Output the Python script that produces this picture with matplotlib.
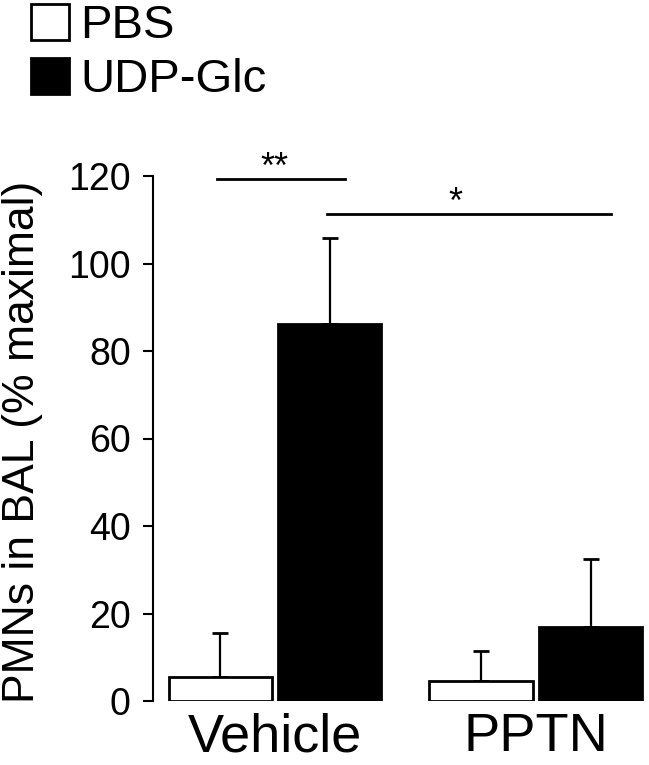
import numpy as np
import matplotlib
matplotlib.use("Agg")
from matplotlib import pyplot as plt

plt.rcParams['font.family'] = ['Liberation Sans', 'DejaVu Sans']

groups = ['Vehicle', 'PPTN']
series = ['PBS', 'UDP-Glc']
means = {'PBS': [5.5, 4.6], 'UDP-Glc': [86.1, 16.9]}
errs = {'PBS': [10.0, 6.8], 'UDP-Glc': [19.7, 15.6]}
colors = {'PBS': 'white', 'UDP-Glc': 'black'}
yticks = [0, 20, 40, 60, 80, 100, 120]

W, H = 649, 765
fig = plt.figure(figsize=(W / 100, H / 100), dpi=100)
ax = fig.add_axes([153 / W, 64 / H, (648 - 153) / W, (701 - 176) / H])

x = np.arange(len(groups))
width = 0.395
offsets = [-0.21, 0.21]
for s, off in zip(series, offsets):
    ax.bar(x + off, means[s], width, color=colors[s], edgecolor='black',
           linewidth=2.0, zorder=2, label=s)
    ax.errorbar(x + off, means[s], yerr=[np.zeros(len(groups)), errs[s]],
                fmt='none', ecolor='black', elinewidth=1.6, capsize=5.5,
                capthick=2.0, zorder=1)

# significance brackets
ax.plot([-0.22, 0.27], [119.3, 119.3], color='black', lw=2, clip_on=False)
ax.text(0.0, 119.6, '**', ha='center', va='baseline', fontsize=26, clip_on=False)
ax.plot([0.2, 1.29], [111.3, 111.3], color='black', lw=2, clip_on=False)
ax.text(0.69, 111.6, '*', ha='center', va='baseline', fontsize=26, clip_on=False)

ax.set_xlim(-0.467, 1.43)
ax.set_ylim(0, 120)
ax.set_yticks(yticks)
ax.set_xticks(x)
ax.set_xticklabels(groups, fontsize=39)
ax.tick_params(axis='x', length=0, pad=8)
ax.tick_params(axis='y', labelsize=27, length=7, width=1.5, pad=9, direction='out')
for side in ['top', 'right', 'bottom']:
    ax.spines[side].set_visible(False)
ax.spines['left'].set_linewidth(1.5)
ax.set_ylabel('PMNs in BAL (% maximal)', fontsize=32)
ax.yaxis.set_label_coords(-0.222, 0.494)

fig.legend(loc='upper left', bbox_to_anchor=(31 / W, 1 - 4 / H), frameon=False,
           fontsize=34, handlelength=0.8, handleheight=0.8, handletextpad=0.25,
           labelspacing=0.2, borderpad=0, borderaxespad=0)

fig.savefig('out.png', dpi=100)
